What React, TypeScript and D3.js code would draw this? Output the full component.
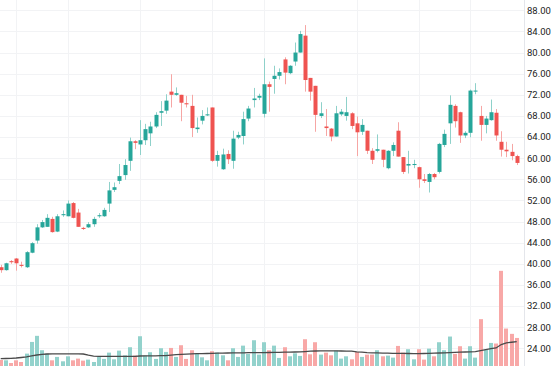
import React from 'react';
import * as d3 from 'd3';

const W = 555;
const H = 366;
const PLOT_RIGHT = 524;

// OHLC, one entry per bar (left to right)
const open = [
  39.35, 38.8, 40.5, 41.0, 39.8, 39.35, 42.1, 44.4, 46.9, 47.0,
  48.5, 46.1, 49.2, 49.0, 51.5, 49.7, 46.8, 46.9, 47.5, 49.0,
  49.0, 51.4, 54.0, 55.7, 56.8, 59.5, 63.2, 62.6, 63.4, 64.7,
  66.0, 68.6, 69.0, 72.6, 72.0, 72.0, 70.4, 69.9, 65.5, 67.1,
  68.1, 69.6, 59.5, 57.9, 60.8, 59.5, 63.9, 64.2, 67.5, 71.0,
  71.45, 68.4, 74.0, 75.0, 75.6, 78.7, 76.1, 78.3, 80.0, 83.2,
  75.2, 73.7, 68.0, 66.0, 65.6, 64.1, 68.3, 68.0, 68.5, 66.6,
  65.0, 65.2, 61.4, 61.4, 61.6, 58.1, 61.4, 65.2, 60.2, 58.6,
  58.7, 58.3, 56.0, 55.5, 57.0, 57.4, 62.5, 66.6, 69.9, 68.7,
  64.3, 64.8, 72.7, 68.0, 66.3, 67.2, 68.6, 63.1, 61.6, 61.2,
  60.4,
];
const high = [
  39.8, 40.2, 40.7, 41.1, 40.4, 42.4, 44.1, 47.5, 48.3, 49.4,
  48.9, 49.4, 50.1, 52.0, 51.7, 50.4, 47.0, 47.9, 48.9, 49.6,
  50.6, 55.5, 55.4, 58.9, 59.8, 63.9, 63.4, 67.2, 66.5, 66.9,
  68.7, 70.8, 72.1, 75.9, 73.4, 72.0, 71.8, 72.0, 67.7, 69.1,
  69.6, 69.6, 61.4, 61.8, 61.5, 65.2, 65.0, 68.8, 69.9, 73.3,
  72.2, 78.9, 74.5, 77.5, 77.0, 79.1, 77.6, 81.9, 84.1, 85.2,
  75.2, 73.7, 70.6, 69.3, 65.7, 69.9, 69.3, 71.6, 68.7, 67.9,
  67.4, 65.2, 61.9, 64.5, 61.6, 61.5, 63.0, 66.8, 60.2, 61.4,
  59.7, 58.4, 57.0, 57.2, 57.2, 62.9, 65.4, 71.9, 70.2, 68.8,
  65.1, 73.0, 74.2, 69.9, 68.0, 71.1, 69.3, 65.1, 63.1, 62.7,
  60.65,
];
const low = [
  38.3, 38.7, 40.0, 38.7, 39.3, 39.2, 42.0, 43.8, 46.8, 47.0,
  45.9, 46.0, 48.9, 49.0, 48.6, 47.0, 46.4, 46.8, 47.0, 48.7,
  48.9, 49.8, 53.6, 55.1, 55.9, 57.6, 61.7, 60.6, 62.5, 62.3,
  65.7, 66.1, 68.4, 69.6, 71.8, 67.0, 69.6, 64.0, 64.8, 66.4,
  68.0, 59.3, 58.4, 57.8, 58.9, 58.0, 63.6, 62.6, 67.0, 69.6,
  71.0, 67.7, 68.8, 72.2, 74.9, 74.0, 75.9, 77.5, 80.0, 72.6,
  70.9, 65.0, 67.6, 64.2, 63.2, 64.1, 68.0, 67.1, 65.5, 60.4,
  64.4, 60.8, 58.9, 61.1, 58.3, 57.9, 60.4, 60.3, 57.0, 57.1,
  58.1, 54.4, 55.3, 53.5, 56.0, 57.1, 62.1, 62.7, 65.8, 62.9,
  63.8, 63.95, 72.1, 63.3, 64.7, 67.1, 63.3, 60.3, 60.2, 59.6,
  58.7,
];
const close = [
  38.8, 40.1, 40.3, 40.1, 39.6, 42.2, 43.9, 46.9, 47.9, 48.7,
  46.0, 49.0, 49.4, 51.4, 48.7, 47.0, 46.6, 47.5, 48.5, 49.2,
  50.2, 53.9, 54.5, 56.6, 58.7, 63.2, 62.9, 63.4, 65.5, 66.0,
  68.2, 68.9, 70.9, 72.0, 72.3, 70.5, 70.2, 65.7, 65.8, 68.0,
  68.3, 59.5, 60.6, 60.7, 59.8, 63.7, 64.4, 67.4, 69.4, 71.3,
  71.8, 74.0, 73.5, 75.6, 76.3, 76.2, 77.5, 80.0, 83.5, 74.8,
  72.6, 68.2, 68.5, 65.7, 64.1, 68.5, 68.8, 68.7, 66.1, 64.9,
  66.3, 61.4, 59.7, 61.7, 59.7, 61.4, 62.5, 60.3, 57.4, 58.9,
  58.9, 56.0, 55.7, 57.0, 56.4, 62.7, 64.6, 70.1, 67.0, 64.3,
  64.8, 72.8, 72.8, 66.3, 67.5, 68.7, 64.3, 61.6, 61.3, 60.4,
  59.1,
];
// volume (in 100k shares)
const volume = [
  6.0, 5.7, 3.0, 5.7, 4.0, 12.4, 24.1, 30.2, 15.8, 12.4,
  5.7, 9.1, 4.7, 9.7, 5.7, 7.4, 5.4, 6.4, 4.0, 9.1,
  7.1, 13.4, 6.7, 15.4, 10.7, 18.8, 10.4, 29.8, 10.4, 13.8,
  7.1, 17.8, 14.1, 18.1, 9.1, 20.8, 7.1, 15.8, 12.7, 8.7,
  5.7, 14.8, 13.4, 10.7, 5.7, 17.8, 9.1, 20.4, 12.1, 25.8,
  11.4, 23.8, 15.8, 20.4, 8.1, 18.8, 9.7, 12.7, 10.1, 26.8,
  11.7, 23.8, 11.4, 13.4, 10.7, 15.4, 7.4, 9.7, 6.7, 14.1,
  9.1, 11.4, 11.4, 15.8, 9.7, 10.4, 8.4, 20.1, 13.4, 16.8,
  6.7, 16.8, 6.4, 17.4, 9.7, 23.8, 15.8, 29.5, 12.1, 19.8,
  7.4, 19.8, 8.4, 46.9, 16.4, 23.1, 22.5, 95.3, 37.5, 32.2,
  28.1,
];
// moving average of volume, as drawn
const volumeAvg = [
  7.4, 7.5, 7.7, 8.0, 8.5, 9.1, 10.1, 11.0, 11.6, 12.0,
  12.1, 12.1, 12.1, 12.1, 12.1, 12.1, 12.0, 10.8, 9.8, 9.7,
  9.7, 9.7, 9.7, 9.7, 9.7, 9.7, 9.7, 10.0, 10.1, 10.1,
  10.1, 10.3, 10.4, 10.8, 11.3, 11.7, 11.9, 12.1, 12.3, 12.4,
  12.5, 12.7, 12.8, 12.9, 13.0, 13.1, 13.2, 13.2, 13.3, 13.3,
  13.4, 13.4, 13.5, 13.6, 13.7, 13.8, 13.9, 14.0, 14.1, 14.4,
  14.8, 15.0, 15.1, 15.1, 15.1, 15.1, 15.0, 14.9, 14.8, 14.1,
  13.8, 13.4, 13.2, 13.1, 12.9, 12.8, 12.7, 12.7, 12.6, 12.5,
  12.4, 12.4, 12.5, 12.7, 12.8, 13.0, 13.2, 13.4, 13.6, 13.8,
  14.0, 14.1, 14.3, 15.4, 16.4, 17.4, 18.1, 21.5, 23.1, 23.8,
  24.4,
];
const priceTicks = d3.range(24, 89, 4);
const timeGridBars = [3, 13, 27, 41, 51, 69, 81, 91];

const UP = '#26a69a';
const DOWN = '#ef5350';
const UP_WICK = '#8fd1ca';
const DOWN_WICK = '#f6a6a4';
const UP_VOL = '#93d2cc';
const DOWN_VOL = '#f8a8a7';
const GRID = '#f2f3f5';

export default function App() {
  const x = d3.scaleLinear().domain([0, open.length - 1]).range([0.7, 516.7]);
  const y = d3.scaleLinear().domain([24, 88]).range([348.3, 10.3]);
  const yVol = d3.scaleLinear().domain([0, d3.max(volume) as number]).range([H, H * 0.74]);

  const avgLine = d3.line<number>()
    .x((_, i) => x(i))
    .y(v => yVol(v));

  const bodyW = 4;
  const fmt = d3.format('.2f');

  return (
    <svg
      width={W}
      height={H}
      style={{ position: 'fixed', left: 0, top: 0, background: '#ffffff' }}
      fontFamily="Roboto, 'Liberation Sans', sans-serif"
    >
      <rect width={W} height={H} fill="#ffffff" />

      {/* grid */}
      {priceTicks.map(t => (
        <line key={'h' + t} x1={0} x2={PLOT_RIGHT} y1={Math.round(y(t)) + 0.5} y2={Math.round(y(t)) + 0.5}
          stroke={GRID} strokeWidth={1} />
      ))}
      {timeGridBars.map(i => (
        <line key={'v' + i} x1={Math.round(x(i)) + 0.5} x2={Math.round(x(i)) + 0.5} y1={0} y2={H}
          stroke={GRID} strokeWidth={1} />
      ))}

      {/* volume */}
      {volume.map((v, i) => {
        const cx = Math.round(x(i));
        const up = close[i] >= open[i];
        const top = yVol(v);
        return (
          <rect key={'vol' + i} x={cx - bodyW / 2} y={top} width={bodyW} height={H - top}
            fill={up ? UP_VOL : DOWN_VOL} />
        );
      })}
      <path d={avgLine(volumeAvg) || ''} fill="none" stroke="#4a4a4a" strokeWidth={1.3} />

      {/* candles */}
      {open.map((o, i) => {
        const c = close[i];
        const up = c >= o;
        const cx = Math.round(x(i));
        const yTop = y(Math.max(o, c));
        const yBot = y(Math.min(o, c));
        return (
          <g key={'c' + i}>
            <line x1={cx + 0.5} x2={cx + 0.5} y1={y(high[i])} y2={y(low[i])}
              stroke={up ? UP_WICK : DOWN_WICK} strokeWidth={1} />
            <rect x={cx - bodyW / 2 + 0.5} y={yTop} width={bodyW} height={Math.max(1, yBot - yTop)}
              fill={up ? UP : DOWN} />
          </g>
        );
      })}

      {/* right price scale */}
      <line x1={PLOT_RIGHT + 0.5} x2={PLOT_RIGHT + 0.5} y1={0} y2={H} stroke="#e4e6eb" strokeWidth={1} />
      {priceTicks.map(t => (
        <text key={'l' + t} x={527} y={y(t)} dy="0.35em" fontSize={9.5} fill="#1c1c1c">
          {fmt(t)}
        </text>
      ))}
    </svg>
  );
}
